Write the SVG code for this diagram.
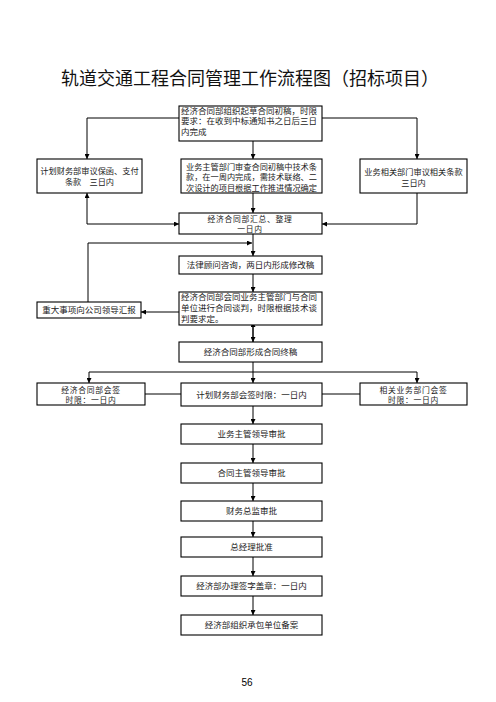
<svg xmlns="http://www.w3.org/2000/svg" width="496" height="702" viewBox="0 0 496 702">
<style>
.b{fill:#fff;stroke:#000;stroke-width:1.1}
.t{font-family:"Noto Sans CJK SC","Noto Sans",sans-serif;font-size:8.5px;fill:#222}
.s{font-size:8.2px}
.x{font-size:7.8px;letter-spacing:0.7px}
.c{text-anchor:middle}
.l{fill:none;stroke:#000;stroke-width:1}
.a{marker-end:url(#ar)}
</style>
<defs>
<marker id="ar" viewBox="0 0 6 6" refX="6" refY="3" markerWidth="5" markerHeight="5" orient="auto-start-reverse" markerUnits="userSpaceOnUse"><path d="M0,0 L6,3 L0,6z" fill="#000"/></marker>
</defs>
<rect width="496" height="702" fill="#fff"/>
<text x="250" y="85" text-anchor="middle" style="font-family:'Noto Sans CJK SC',sans-serif;font-size:18px;fill:#111">轨道交通工程合同管理工作流程图（招标项目）</text>

<g id="connectors">
<path class="l a" d="M253,141 L253,159"/>
<path class="l a" d="M179,118 L87,118 L87,159"/>
<path class="l a" d="M322,118 L417,118 L417,159"/>
<path class="l a" d="M87,224 L87,193"/>
<path class="l a" d="M87,224 L179,224"/>
<path class="l a" d="M253,193 L253,213"/>
<path class="l a" d="M417,193 L417,224 L322,224"/>
<path class="l a" d="M253,234 L253,256"/>
<path class="l a" d="M88,302 L88,243 L252,243"/>
<path class="l a" d="M253,274 L253,292"/>
<path class="l a" d="M179,312 L141,312"/>
<path class="l a" d="M253,342 L253,322"/>
<path class="l a" d="M253,325 L253,342"/>
<path class="l" d="M253,362 L253,372 M89,372 L417,372"/>
<path class="l a" d="M89,372 L89,383"/>
<path class="l a" d="M253,372 L253,383"/>
<path class="l a" d="M417,372 L417,383"/>
<path class="l" d="M145,394 L181,394 M322,394 L360,394"/>
<path class="l a" d="M253,406 L253,424"/>
<path class="l a" d="M253,444 L253,463"/>
<path class="l a" d="M253,483 L253,501"/>
<path class="l a" d="M253,521 L253,537"/>
<path class="l a" d="M253,557 L253,576"/>
<path class="l a" d="M253,596 L253,615"/>
</g>

<g id="n1"><rect class="b" x="179" y="106" width="143" height="35"/>
<text class="t" x="181" y="113.5">经济合同部组织起草合同初稿，时限</text>
<text class="t" x="181" y="124">要求：在收到中标通知书之日后三日</text>
<text class="t" x="181" y="134.5">内完成</text></g>

<g id="n2"><rect class="b" x="37" y="159" width="105" height="34"/>
<text class="t s c" x="89.5" y="174">计划财务部审议保函、支付</text>
<text class="t s c" x="89.5" y="185">条款　三日内</text></g>

<g id="n3"><rect class="b" x="181" y="159" width="141" height="34"/>
<text class="t s c" x="251.5" y="169.5">业务主管部门审查合同初稿中技术条</text>
<text class="t s c" x="251.5" y="180">款，在一周内完成，需技术联络、二</text>
<text class="t s c" x="251.5" y="190.5">次设计的项目根据工作推进情况确定</text></g>

<g id="n4"><rect class="b" x="360" y="159" width="107" height="34"/>
<text class="t s c" x="413.5" y="174.5">业务相关部门审议相关条款</text>
<text class="t s c" x="413.5" y="185.5">三日内</text></g>

<g id="n5"><rect class="b" x="179" y="213" width="143" height="21"/>
<text class="t x c" x="250" y="222">经济合同部汇总、整理</text>
<text class="t x c" x="250" y="232">一日内</text></g>

<g id="n6"><rect class="b" x="179" y="256" width="143" height="18"/>
<text class="t c" x="250.5" y="268">法律顾问咨询，两日内形成修改稿</text></g>

<g id="n7"><rect class="b" x="179" y="292" width="143" height="33"/>
<text class="t" x="181" y="300">经济合同部会同业务主管部门与合同</text>
<text class="t" x="181" y="311">单位进行合同谈判，时限根据技术谈</text>
<text class="t" x="181" y="322">判要求定。</text></g>

<g id="n8"><rect class="b" x="37" y="302" width="104" height="16"/>
<text class="t c" x="89" y="313">重大事项向公司领导汇报</text></g>

<g id="n9"><rect class="b" x="179" y="342" width="143" height="20"/>
<text class="t c" x="250.5" y="355">经济合同部形成合同终稿</text></g>

<g id="n10"><rect class="b" x="37" y="383" width="108" height="22"/>
<text class="t x c" x="91" y="392.5">经济合同部会签</text>
<text class="t x c" x="91" y="402.5">时限：一日内</text></g>

<g id="n11"><rect class="b" x="181" y="383" width="141" height="23"/>
<text class="t c" x="251.5" y="397.5">计划财务部会签时限：一日内</text></g>

<g id="n12"><rect class="b" x="360" y="383" width="107" height="22"/>
<text class="t x c" x="413.5" y="392.5">相关业务部门会签</text>
<text class="t x c" x="413.5" y="402.5">时限：一日内</text></g>

<g id="n13"><rect class="b" x="181" y="424" width="141" height="20"/>
<text class="t c" x="251.5" y="437">业务主管领导审批</text></g>

<g id="n14"><rect class="b" x="181" y="463" width="141" height="20"/>
<text class="t c" x="251.5" y="476">合同主管领导审批</text></g>

<g id="n15"><rect class="b" x="181" y="501" width="141" height="20"/>
<text class="t c" x="251.5" y="514">财务总监审批</text></g>

<g id="n16"><rect class="b" x="181" y="537" width="141" height="20"/>
<text class="t c" x="251.5" y="550">总经理批准</text></g>

<g id="n17"><rect class="b" x="181" y="576" width="141" height="20"/>
<text class="t c" x="251.5" y="589">经济部办理签字盖章：一日内</text></g>

<g id="n18"><rect class="b" x="181" y="615" width="141" height="20"/>
<text class="t c" x="251.5" y="628">经济部组织承包单位备案</text></g>

<text x="247" y="686" text-anchor="middle" style="font-family:'Liberation Sans',sans-serif;font-size:10px;fill:#000">56</text>
</svg>
